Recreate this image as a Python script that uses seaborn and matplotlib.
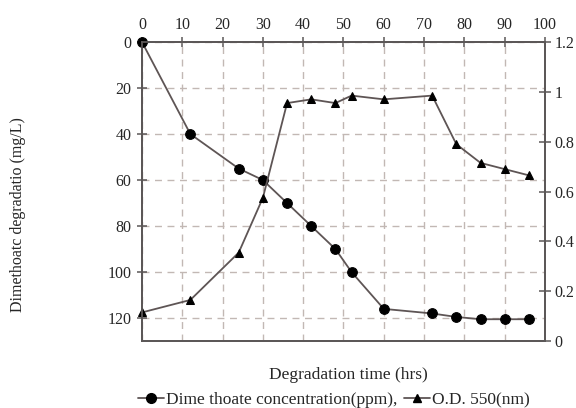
import matplotlib
matplotlib.use("Agg")
import matplotlib.pyplot as plt
from matplotlib.lines import Line2D
from matplotlib.ticker import FuncFormatter
import seaborn as sns
import pandas as pd

# degradation time (hrs)
hours = [0, 12, 24, 30, 36, 42, 48, 52, 60, 72, 78, 84, 90, 96]
# dimethoate degraded (mg/L), left axis (inverted)
concentration = [0, 40, 55, 60, 70, 80, 90, 100, 116, 118, 119.5, 120.5, 120.5, 120.5]
# optical density at 550 nm, right axis
od550 = [0.115, 0.165, 0.355, 0.575, 0.955, 0.97, 0.955, 0.985, 0.97, 0.985, 0.79, 0.715, 0.69, 0.665]

df = pd.DataFrame({"hours": hours, "conc": concentration, "od": od550})

sns.set_theme(style="white")
plt.rcParams['font.family'] = ['Liberation Serif', 'DejaVu Serif']

spine_col = "#5b5757"
line_col = "#5e5555"
grid_col = "#c2b8b4"

fig = plt.figure(figsize=(5.76, 4.08), dpi=100)
ax = fig.add_axes([0.2465, 0.164, 0.6997, 0.733])

sns.lineplot(data=df, x="hours", y="conc", ax=ax, color=line_col, linewidth=1.3,
             marker="o", markersize=7, markerfacecolor="black", markeredgecolor="black",
             clip_on=False, zorder=5)
ax.set_xlim(0, 100)
ax.set_ylim(130, 0)
ax.set_xticks(range(0, 101, 10))
ax.set_yticks(range(0, 121, 20))
ax.xaxis.tick_top()
ax.set_xlabel("")
ax.set_ylabel("")
ax.grid(True, linestyle=(0, (5, 4)), color=grid_col, linewidth=1.0)
ax.tick_params(axis="x", direction="inout", length=7, width=1.1, color=spine_col,
               labelsize=11.5, pad=3, top=True, bottom=False)
ax.tick_params(axis="y", direction="inout", length=7, width=1.1, color=spine_col,
               labelsize=11.5, pad=4, left=True)

ax2 = ax.twinx()
sns.lineplot(data=df, x="hours", y="od", ax=ax2, color=line_col, linewidth=1.3,
             marker="^", markersize=6, markerfacecolor="black", markeredgecolor="black",
             clip_on=False)
ax2.set_ylim(0, 1.2)
ax2.set_yticks([0, 0.2, 0.4, 0.6, 0.8, 1.0, 1.2])
ax2.yaxis.set_major_formatter(FuncFormatter(lambda v, p: "%g" % round(v, 1)))
ax2.set_ylabel("")
ax2.set_xlabel("")
ax2.tick_params(axis="y", direction="inout", length=8, width=1.1, color=spine_col,
                labelsize=11.5, pad=3, right=True)

for a in (ax, ax2):
    for s in a.spines.values():
        s.set_color(spine_col)
        s.set_linewidth(1.3)

fig.text(0.031, 1 - 215 / 408, "Dimethoatc degradatio (mg/L)", rotation=90,
         ha="center", va="center", fontsize=11.5)
fig.text(348 / 576, 1 - 375 / 408, "Degradation time (hrs)", ha="center", va="center",
         fontsize=12.5)

handles = [
    Line2D([], [], color=line_col, linewidth=1.3, marker="o", markersize=7,
           markerfacecolor="black", markeredgecolor="black"),
    Line2D([], [], color=line_col, linewidth=1.3, marker="^", markersize=6,
           markerfacecolor="black", markeredgecolor="black"),
]
fig.legend(handles, ["Dime thoate concentration(ppm),", "O.D. 550(nm)"],
           loc="center", bbox_to_anchor=(334 / 576, 1 - 400 / 408), ncol=2,
           frameon=False, fontsize=12.5, handlelength=1.5, handletextpad=0.1,
           columnspacing=0.4, borderpad=0, borderaxespad=0)

fig.savefig("out.png", dpi=100)
